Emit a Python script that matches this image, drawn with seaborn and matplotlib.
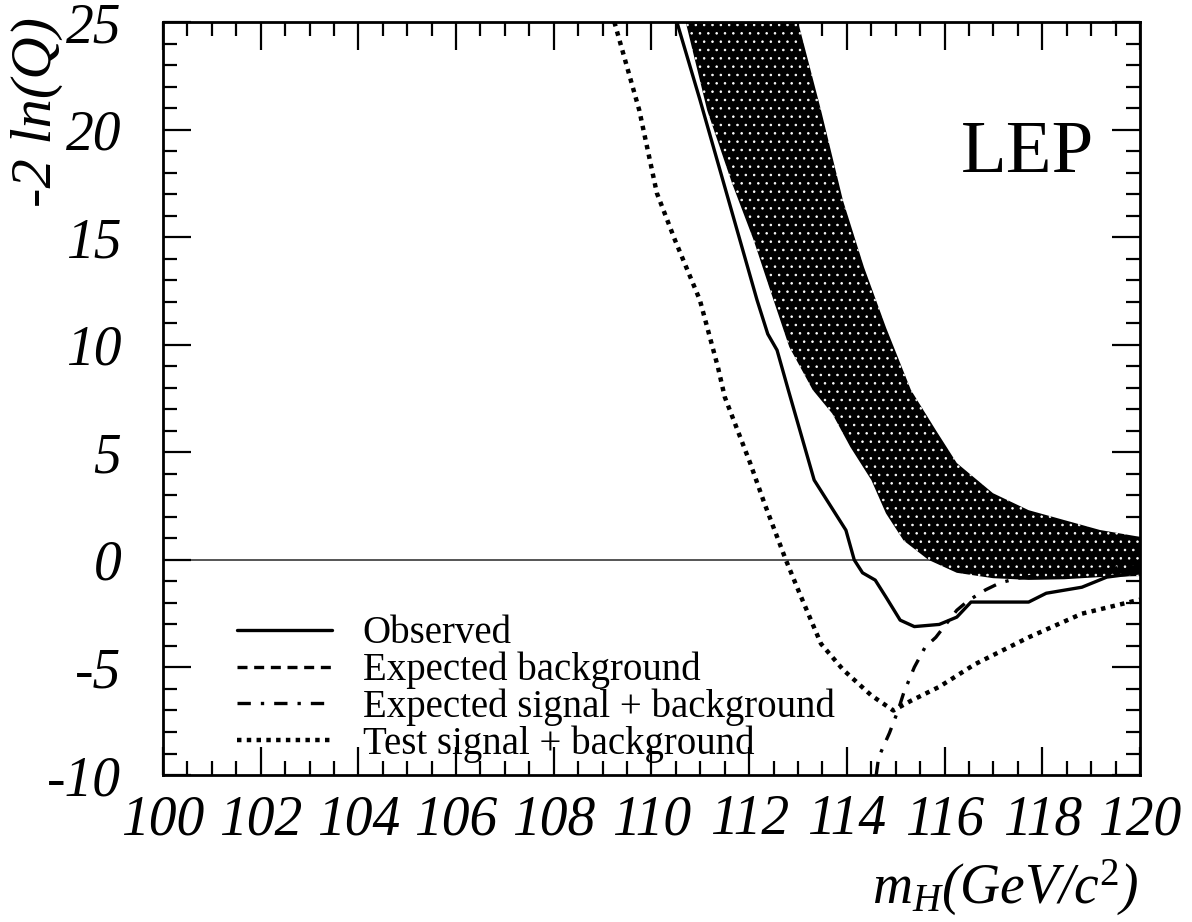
import numpy as np
import pandas as pd
import matplotlib
matplotlib.use("Agg")
import matplotlib.pyplot as plt
import seaborn as sns
from matplotlib.ticker import MultipleLocator

# Observed -2 ln(Q) versus Higgs mass
obs_mh = [110.52, 110.99, 111.58, 112.16, 112.38, 112.57, 112.8, 113.33, 113.98, 114.15,
          114.32, 114.58, 114.8, 115.09, 115.38, 115.89, 116.25, 116.54, 116.99, 117.72,
          118.08, 118.81, 119.32, 120.0]
obs_q = [25.0, 21.4, 16.7, 12.08, 10.5, 9.75, 7.9, 3.71, 1.38, 0.0,
         -0.6, -0.94, -1.73, -2.8, -3.1, -3.0, -2.66, -1.96, -1.96, -1.96,
         -1.55, -1.27, -0.8, -0.6]

# Expected background (median of the background-only band)
bkg_mh = [111.9, 112.3, 112.83, 113.5, 114.2, 115.0, 115.5, 116.0, 117.0, 118.0, 119.0, 120.0]
bkg_q = [25.0, 20.9, 16.7, 12.1, 8.0, 5.5, 3.45, 2.4, 1.1, 0.55, 0.3, 0.15]

# Expected signal + background
sb_mh = [114.6, 114.65, 114.87, 115.05, 115.16, 115.38, 115.6, 115.82, 116.25, 116.48,
         116.84, 117.13, 117.5, 118.0, 119.0, 120.0]
sb_q = [-10.0, -9.17, -8.05, -6.98, -6.2, -4.99, -4.06, -3.6, -2.34, -1.9,
        -1.39, -1.07, -0.85, -0.7, -0.45, -0.3]

# Test signal + background
test_mh = [109.24, 109.75, 110.11, 110.48, 110.99, 111.36, 111.5, 112.02, 112.31, 112.75,
           113.04, 113.47, 113.92, 114.5, 114.95, 115.31, 115.89, 116.62, 117.72, 118.81,
           119.9, 120.0]
test_q = [25.0, 20.9, 17.05, 14.87, 12.08, 8.96, 7.57, 4.5, 2.64, 0.0,
          -1.6, -3.9, -5.1, -6.3, -7.0, -6.55, -5.9, -4.85, -3.6, -2.5,
          -1.9, -1.85]

# Background-only band: upper and lower edges
band_hi_mh = [113.0, 113.47, 113.92, 114.35, 114.8, 115.31, 115.82, 116.25, 116.99, 117.72,
              118.45, 119.18, 120.0]
band_hi_q = [25.0, 20.9, 16.7, 13.6, 10.8, 7.9, 6.03, 4.5, 3.1, 2.31,
             1.85, 1.39, 1.07]
band_lo_mh = [110.7, 111.14, 111.65, 112.09, 112.45, 112.82, 113.3, 113.7, 114.07, 114.5,
              114.8, 115.16, 115.67, 116.25, 116.99, 117.72, 118.45, 119.18, 120.0]
band_lo_q = [25.0, 20.9, 17.5, 14.87, 12.4, 9.9, 7.9, 6.8, 5.25, 3.71,
             2.16, 0.9, 0.0, -0.6, -0.85, -0.93, -0.9, -0.8, -0.75]

x_ticks = [100, 102, 104, 106, 108, 110, 112, 114, 116, 118, 120]
y_ticks = [-10, -5, 0, 5, 10, 15, 20, 25]

sns.set_theme(style="ticks")
plt.rcParams["font.family"] = ["Liberation Serif", "DejaVu Serif"]
plt.rcParams["axes.unicode_minus"] = False
plt.rcParams["mathtext.fontset"] = "custom"
plt.rcParams["mathtext.it"] = "Liberation Serif:italic"
plt.rcParams["mathtext.rm"] = "Liberation Serif"
plt.rcParams["hatch.linewidth"] = 0.6
for key in ("text.color", "axes.labelcolor", "xtick.color", "ytick.color",
            "axes.edgecolor"):
    plt.rcParams[key] = "black"

fig = plt.figure(figsize=(11.92, 9.22), dpi=100)
ax = fig.add_axes([0.1367, 0.1594, 0.8197, 0.8167])

# speckled background-only band
poly_x = band_hi_mh + band_lo_mh[::-1]
poly_y = band_hi_q + band_lo_q[::-1]
ax.fill(poly_x, poly_y, facecolor="black", edgecolor="white", hatch="..",
        linewidth=0, zorder=1)

ax.axhline(0, color="#555555", lw=1.4, zorder=0.5)

df_obs = pd.DataFrame({"mH": obs_mh, "q": obs_q})
df_bkg = pd.DataFrame({"mH": bkg_mh, "q": bkg_q})
df_sb = pd.DataFrame({"mH": sb_mh, "q": sb_q})
df_test = pd.DataFrame({"mH": test_mh, "q": test_q})

sns.lineplot(data=df_obs, x="mH", y="q", ax=ax, color="black", lw=2.4,
             label="Observed", sort=False, zorder=3)
sns.lineplot(data=df_bkg, x="mH", y="q", ax=ax, color="black", lw=2.4,
             linestyle=(0, (3, 2)), label="Expected background", sort=False,
             zorder=0.8)
sns.lineplot(data=df_sb, x="mH", y="q", ax=ax, color="black", lw=2.4,
             linestyle=(0, (4, 3, 1, 3)), label="Expected signal + background",
             sort=False, zorder=3)
sns.lineplot(data=df_test, x="mH", y="q", ax=ax, color="black", lw=3.2,
             linestyle=(0, (1, 1.2)), label="Test signal + background",
             sort=False, zorder=3)

ax.set_xlim(100, 120)
ax.set_ylim(-10, 25)
ax.set_xticks(x_ticks)
ax.set_xticklabels([str(t) for t in x_ticks], fontstyle="italic", fontsize=40)
ax.set_yticks(y_ticks)
ax.set_yticklabels([str(t) for t in y_ticks], fontstyle="italic", fontsize=40)
ax.xaxis.set_minor_locator(MultipleLocator(0.5))
ax.yaxis.set_minor_locator(MultipleLocator(1))
ax.tick_params(which="both", direction="in", top=True, right=True, colors="black",
               width=1.6)
ax.tick_params(which="major", length=20)
ax.tick_params(which="minor", length=10)
ax.tick_params(axis="x", which="major", pad=14)
ax.tick_params(axis="y", which="major", pad=30)
for s in ax.spines.values():
    s.set_linewidth(2.0)
    s.set_color("black")

ax.set_xlabel("")
ax.set_ylabel("")
fig.text(0.955, 0.004, r"$m_H$(GeV/c$^2$)", ha="right", va="bottom",
         fontsize=40, fontstyle="italic")
fig.text(0.009, 0.982, "-2 ln(Q)", rotation=90, ha="left", va="top",
         fontsize=42, fontstyle="italic")
ax.text(0.885, 0.78, "LEP", transform=ax.transAxes, ha="center", va="bottom",
        fontsize=54)

leg = ax.legend(loc="lower left", bbox_to_anchor=(0.04, -0.03), frameon=False,
                fontsize=28, handlelength=2.45, labelspacing=-0.02, handletextpad=0.78)

fig.savefig("out.png", dpi=100, facecolor="white")
